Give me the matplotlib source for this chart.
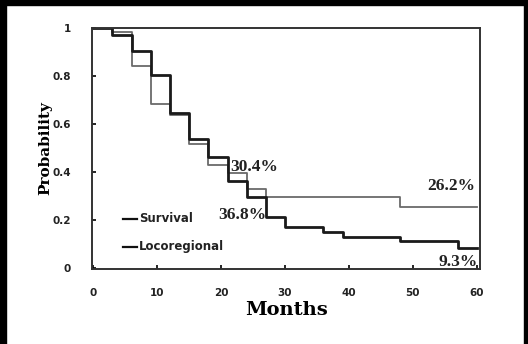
import matplotlib
matplotlib.use("Agg")
import matplotlib.pyplot as plt
from matplotlib.patches import Rectangle

# Data (step times in months, probabilities after each step)
surv_t = [0, 3, 6, 9, 12, 15, 18, 21, 24, 27, 30, 36, 39, 48, 57, 60]
surv_p = [1.0, 0.972, 0.905, 0.806, 0.645, 0.537, 0.46, 0.36, 0.297, 0.21, 0.172, 0.151, 0.13, 0.11, 0.082, 0.082]
loco_t = [0, 3, 6, 9, 12, 15, 18, 21, 24, 27, 48, 60]
loco_p = [1.0, 0.985, 0.84, 0.683, 0.636, 0.516, 0.427, 0.395, 0.327, 0.295, 0.252, 0.252]

xticks = [0, 10, 20, 30, 40, 50, 60]
yticks = [0, 0.2, 0.4, 0.6, 0.8, 1]
ytick_labels = ["0", "0.2", "0.4", "0.6", "0.8", "1"]
annotations = [("30.4%", 21.5, 0.405), ("36.8%", 19.6, 0.205), ("26.2%", 52.2, 0.325), ("9.3%", 54.0, 0.006)]

fig = plt.figure(figsize=(5.28, 3.44), dpi=100)
ax = fig.add_axes([92/528, 1 - 269/344, (480-92)/528, (269-28)/344])

ax.step(loco_t, loco_p, where="post", color="#6a6a6a", lw=1.3)
ax.step(surv_t, surv_p, where="post", color="#1a1a1a", lw=2.0)

ax.set_xlim(-0.2, 60.5)
ax.set_ylim(-0.005, 1.0)
ax.set_xticks(xticks)
ax.set_yticks(yticks)
ax.set_yticklabels(ytick_labels)
ax.tick_params(direction="in", length=3, width=1.2, labelsize=7.5)
ax.tick_params(axis="x", pad=14)
ax.tick_params(axis="y", pad=15)
for lab in ax.get_xticklabels() + ax.get_yticklabels():
    lab.set_fontweight("bold")
    lab.set_color("#222222")
for s in ax.spines.values():
    s.set_linewidth(1.4)
    s.set_color("#333333")

ax.set_xlabel("Months", fontfamily="DejaVu Serif", fontweight="bold", fontsize=14, labelpad=2)
ax.set_ylabel("Probability", fontfamily="DejaVu Serif", fontweight="bold", fontsize=11, labelpad=0)

for txt, x, y in annotations:
    ax.text(x, y, txt, fontfamily="Liberation Serif", fontweight="bold", fontsize=12.5, color="#222222")

# Legend drawn as text lines
ax.plot([4.6, 6.9], [0.205, 0.205], color="#111111", lw=1.6)
ax.text(7.2, 0.205, "Survival", va="center", fontsize=8.5, fontweight="bold", color="#222222")
ax.plot([4.6, 6.9], [0.087, 0.087], color="#111111", lw=1.6)
ax.text(7.2, 0.087, "Locoregional", va="center", fontsize=8.5, fontweight="bold", color="#222222")

# Black frame around image (left, top, right)
fig.patches.append(Rectangle((0, 0), 6/528, 1, transform=fig.transFigure, color="black"))
fig.patches.append(Rectangle((0, 1 - 5/344), 1, 5/344, transform=fig.transFigure, color="black"))
fig.patches.append(Rectangle((1 - 4/528, 0), 4/528, 1, transform=fig.transFigure, color="black"))

fig.savefig("out.png", dpi=100)
